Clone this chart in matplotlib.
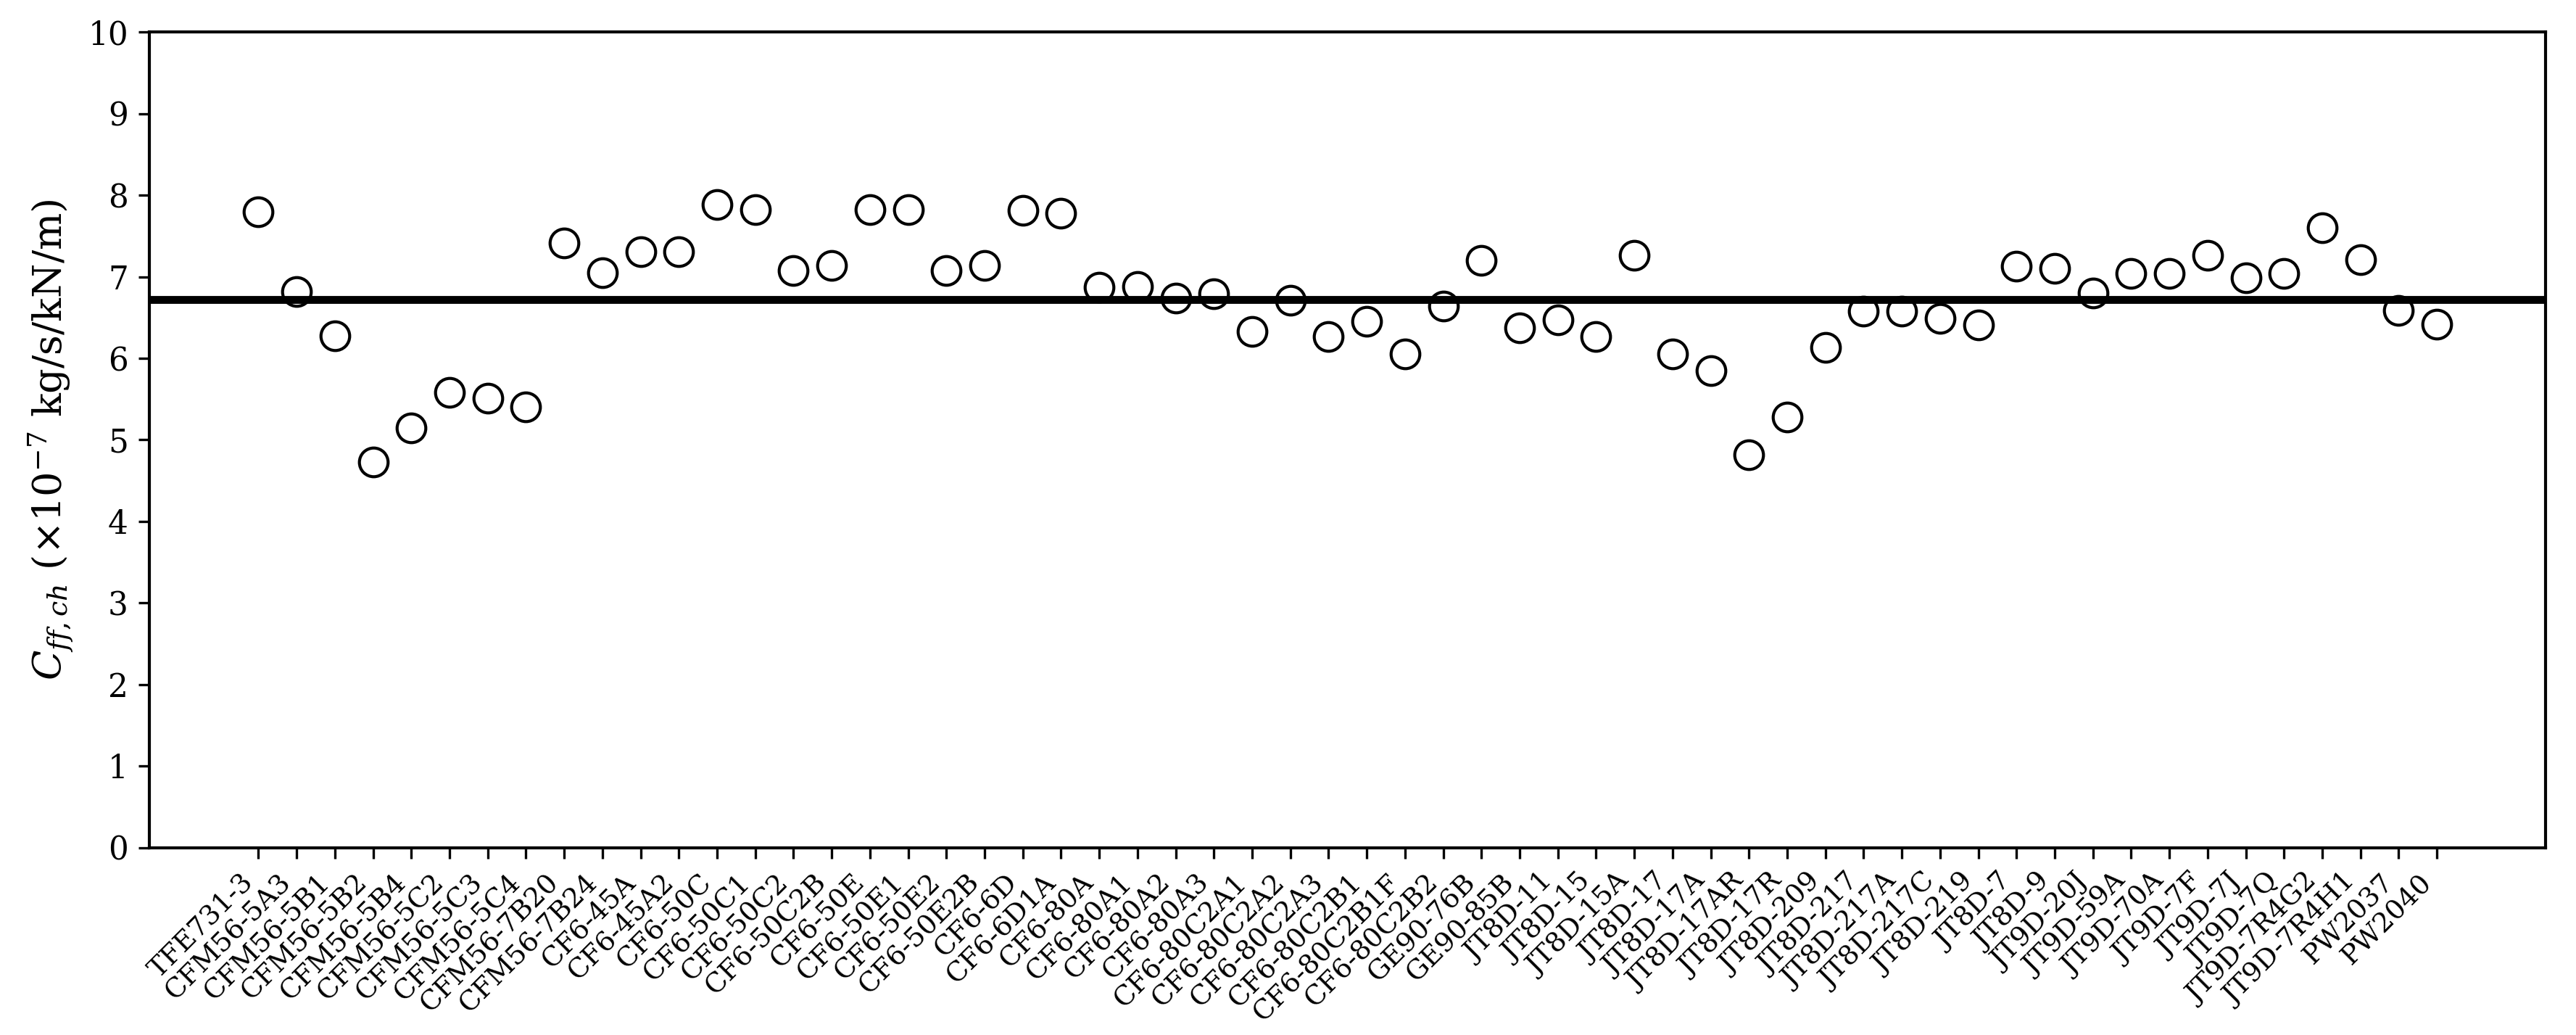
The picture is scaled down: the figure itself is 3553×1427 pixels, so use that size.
import matplotlib
matplotlib.use("Agg")
import matplotlib.pyplot as plt

# engine models and their Cff,ch values (x1e-7 kg/s/kN/m)
engines = [
    "TFE731-3", "CFM56-5A3", "CFM56-5B1", "CFM56-5B2", "CFM56-5B4",
    "CFM56-5C2", "CFM56-5C3", "CFM56-5C4", "CFM56-7B20", "CFM56-7B24",
    "CF6-45A", "CF6-45A2", "CF6-50C", "CF6-50C1", "CF6-50C2",
    "CF6-50C2B", "CF6-50E", "CF6-50E1", "CF6-50E2", "CF6-50E2B",
    "CF6-6D", "CF6-6D1A", "CF6-80A", "CF6-80A1", "CF6-80A2",
    "CF6-80A3", "CF6-80C2A1", "CF6-80C2A2", "CF6-80C2A3", "CF6-80C2B1",
    "CF6-80C2B1F", "CF6-80C2B2", "GE90-76B", "GE90-85B", "JT8D-11",
    "JT8D-15", "JT8D-15A", "JT8D-17", "JT8D-17A", "JT8D-17AR",
    "JT8D-17R", "JT8D-209", "JT8D-217", "JT8D-217A", "JT8D-217C",
    "JT8D-219", "JT8D-7", "JT8D-9", "JT9D-20J", "JT9D-59A",
    "JT9D-70A", "JT9D-7F", "JT9D-7J", "JT9D-7Q", "JT9D-7R4G2",
    "JT9D-7R4H1", "PW2037", "PW2040",
]
cff = [
    7.80, 6.82, 6.28, 4.73, 5.15, 5.58, 5.51, 5.40, 7.41, 7.05,
    7.31, 7.31, 7.89, 7.82, 7.08, 7.14, 7.82, 7.82, 7.08, 7.14,
    7.81, 7.78, 6.87, 6.88, 6.74, 6.79, 6.33, 6.71, 6.27, 6.45,
    6.05, 6.64, 7.20, 6.37, 6.47, 6.27, 7.26, 6.05, 5.85, 4.82,
    5.28, 6.13, 6.58, 6.58, 6.49, 6.41, 7.13, 7.10, 6.80, 7.04,
    7.04, 7.26, 6.99, 7.04, 7.60, 7.21, 6.59, 6.42,
]
mean_cff = 6.72

plt.rcParams["font.family"] = ["DejaVu Serif"]
plt.rcParams["mathtext.fontset"] = "dejavuserif"
plt.rcParams["font.size"] = 10.5

fig, ax = plt.subplots(figsize=(3554 / 300, 1427 / 300), dpi=300)
fig.subplots_adjust(left=0.058, right=0.988, top=0.969, bottom=0.181)

x = list(range(len(engines)))
ax.plot(x, cff, "o", ls="none", ms=9.5, mfc="none", mec="black", mew=1.0)
ax.axhline(mean_cff, color="black", lw=2.6)

ax.set_ylim(0, 10)
ax.set_yticks(range(0, 11))
ax.set_xticks(x)
ax.set_xticklabels(engines, rotation=45, ha="right", fontsize=9)
ax.set_ylabel(r"$C_{ff,ch}$ ($\times 10^{-7}$ kg/s/kN/m)", fontsize=13)
for s in ax.spines.values():
    s.set_linewidth(1.0)

fig.savefig("out.png", dpi=300)
